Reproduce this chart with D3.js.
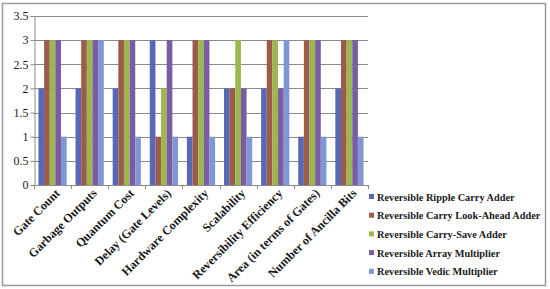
<!DOCTYPE html>
<html>
<head>
<meta charset="utf-8">
<script src="https://cdn.jsdelivr.net/npm/d3@7/dist/d3.min.js"></script>
<style>
  body { margin: 0; background: #fff; }
  text { font-family: 'Liberation Serif', serif; fill: #1a1a1a; }
</style>
</head>
<body>
<div id="chart"></div>
<script>
// Categories along x
var categories = ['Gate Count', 'Garbage Outputs', 'Quantum Cost', 'Delay (Gate Levels)',
  'Hardware Complexity', 'Scalability', 'Reversibility Efficiency',
  'Area (in terms of Gates)', 'Number of Ancilla Bits']

var seriesNames = ['Reversible Ripple Carry Adder', 'Reversible Carry Look-Ahead Adder',
  'Reversible Carry-Save Adder', 'Reversible Array Multiplier', 'Reversible Vedic Multiplier']

// one array per series, same order as categories
var rippleCarry = [2, 2, 2, 3, 1, 2, 2, 1, 2]
var lookAhead = [3, 3, 3, 1, 3, 2, 3, 3, 3]
var carrySave = [3, 3, 3, 2, 3, 3, 3, 3, 3]
var arrayMult = [3, 3, 3, 3, 3, 2, 2, 3, 3]
var vedicMult = [1, 3, 1, 1, 1, 1, 3, 1, 1]

var yTicks = [0, 0.5, 1, 1.5, 2, 2.5, 3, 3.5]

var colors = ['#5868b6', '#9d5b4b', '#9cb650', '#7b5ca2', '#7d98d3']

var seriesValues = [rippleCarry, lookAhead, carrySave, arrayMult, vedicMult]

var width = 550
var height = 289

var svg = d3.select('#chart')
  .append('svg')
  .attr('width', width)
  .attr('height', height)

// outer frame
svg.append('rect')
  .attr('x', 2.5)
  .attr('y', 3.5)
  .attr('width', 543)
  .attr('height', 282)
  .attr('fill', '#fff')
  .attr('stroke', '#9a9a9a')
  .attr('stroke-width', 1.5)

var plotLeft = 34
var plotRight = 368
var plotTop = 16
var plotBottom = 185

var x = d3.scaleBand()
  .domain(categories)
  .range([plotLeft, plotRight])
  .paddingInner(0.24)
  .paddingOuter(0.12)

var x1 = d3.scaleBand()
  .domain(d3.range(seriesNames.length))
  .range([0, x.bandwidth()])

var y = d3.scaleLinear()
  .domain([0, 3.5])
  .range([plotBottom, plotTop])

// gridlines
svg.append('g')
  .selectAll('line')
  .data(yTicks.slice(1))
  .enter()
  .append('line')
  .attr('x1', plotLeft)
  .attr('x2', plotRight)
  .attr('y1', function (d) { return Math.round(y(d)) + 0.5 })
  .attr('y2', function (d) { return Math.round(y(d)) + 0.5 })
  .style('stroke', '#8a8a8a')
  .style('stroke-width', 1)

// bars
var groups = svg.append('g')
  .selectAll('g')
  .data(categories)
  .enter()
  .append('g')
  .attr('transform', function (d) { return 'translate(' + x(d) + ',0)' })

groups.selectAll('rect')
  .data(function (d, i) {
    return seriesValues.map(function (vals, s) { return { s: s, v: vals[i] } })
  })
  .enter()
  .append('rect')
  .attr('x', function (d) { return x1(d.s) })
  .attr('width', x1.bandwidth())
  .attr('y', function (d) { return y(d.v) })
  .attr('height', function (d) { return y(0) - y(d.v) })
  .style('fill', function (d) { return colors[d.s] })

// y axis
var yAxis = svg.append('g')
  .attr('transform', 'translate(' + (plotLeft + 0.5) + ',0)')
  .call(d3.axisLeft(y).tickValues(yTicks).tickSize(4).tickFormat(d3.format('')))
yAxis.select('.domain').style('stroke', '#8a8a8a')
yAxis.selectAll('.tick line').style('stroke', '#8a8a8a')
yAxis.selectAll('text')
  .attr('x', -6)
  .style('font-family', "'Liberation Serif', serif")
  .style('font-size', '12px')
  .style('fill', '#1a1a1a')

// x axis line + ticks between categories
var xAxisG = svg.append('g')
xAxisG.append('line')
  .attr('x1', plotLeft)
  .attr('x2', plotRight)
  .attr('y1', plotBottom + 0.5)
  .attr('y2', plotBottom + 0.5)
  .style('stroke', '#8a8a8a')
var step = (plotRight - plotLeft) / categories.length
xAxisG.selectAll('.xt')
  .data(d3.range(categories.length + 1))
  .enter()
  .append('line')
  .attr('x1', function (i) { return Math.round(plotLeft + i * step) + 0.5 })
  .attr('x2', function (i) { return Math.round(plotLeft + i * step) + 0.5 })
  .attr('y1', plotBottom)
  .attr('y2', plotBottom + 4)
  .style('stroke', '#8a8a8a')

// category labels, rotated
svg.append('g')
  .selectAll('text')
  .data(categories)
  .enter()
  .append('text')
  .attr('transform', function (d) {
    return 'translate(' + (x(d) + x.bandwidth() / 2 + 8) + ',' + (plotBottom + 9) + ') rotate(-45)'
  })
  .attr('text-anchor', 'end')
  .style('font-size', '12.2px')
  .style('font-weight', 'bold')
  .text(function (d) { return d })

// legend
var legend = svg.append('g')
  .selectAll('g')
  .data(seriesNames)
  .enter()
  .append('g')
  .attr('transform', function (d, i) { return 'translate(369,' + (197 + i * 18.7) + ')' })

legend.append('rect')
  .attr('x', 0)
  .attr('y', -3)
  .attr('width', 5)
  .attr('height', 5)
  .style('fill', function (d, i) { return colors[i] })

legend.append('text')
  .attr('x', 8)
  .attr('y', 3.5)
  .style('font-size', '10.3px')
  .style('font-weight', 'bold')
  .text(function (d) { return d })
</script>
</body>
</html>
